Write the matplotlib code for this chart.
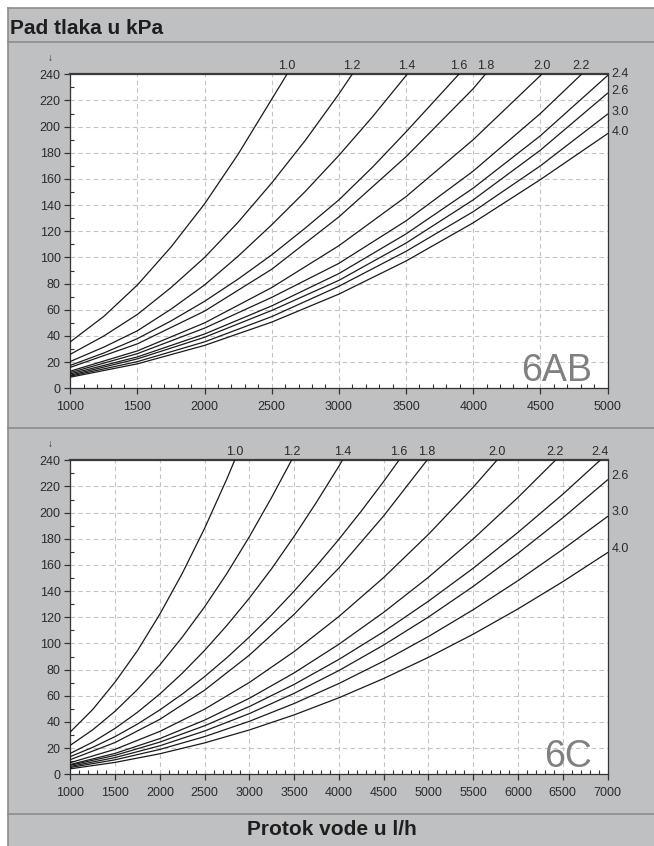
import numpy as np
import matplotlib
matplotlib.use('Agg')
from matplotlib import pyplot as plt
from matplotlib import font_manager
from matplotlib.ticker import MultipleLocator
from matplotlib.lines import Line2D
from matplotlib.patches import Rectangle

# oznake krivulja (postavke ventila)
krivulje = ['1.0', '1.2', '1.4', '1.6', '1.8', '2.0', '2.2', '2.4', '2.6', '3.0', '4.0']

# --- 6AB: protok u l/h, pad tlaka u kPa ---
# strme krivulje ocitane svakih 250 l/h, ostale svakih 500 l/h
protok_6ab_250 = [1000, 1250, 1500, 1750, 2000, 2250, 2500, 2750, 3000, 3250, 3500, 3750, 4000]
protok_6ab_500 = [1000, 1500, 2000, 2500, 3000, 3500, 4000, 4500, 5000]
pad_6ab_10 = [35.5, 55, 79, 108, 141, 179, 221, 263]
pad_6ab_12 = [26, 40, 56.5, 77, 100, 127, 157, 189.5, 225, 263]
pad_6ab_14 = [20.5, 31.5, 44, 60.5, 79, 101, 125, 150.5, 178, 207.5, 239, 272]
pad_6ab_16 = [17.5, 27, 38, 51.5, 66.5, 83.5, 102, 122.5, 144, 169, 196, 224, 252]
pad_6ab_18 = [16, 34, 59, 91, 131, 177, 229, 290]
pad_6ab_20 = [13.1, 28.6, 50, 77, 109, 146.5, 190, 239, 292]
pad_6ab_22 = [12, 26.5, 46, 69.5, 95.5, 128, 166, 210, 259]
pad_6ab_24 = [11, 24, 41.5, 63, 87.7, 118, 153, 193, 239]
pad_6ab_26 = [10, 22.5, 39, 59.5, 82.5, 111, 144, 182, 225.5]
pad_6ab_30 = [9.3, 20.4, 35.5, 54.8, 78, 104.7, 135, 170, 209.5]
pad_6ab_40 = [8.5, 18.7, 32.8, 50.6, 72, 97.3, 126.5, 159.5, 194.6]

# --- 6C ---
protok_6c_250 = [1000, 1250, 1500, 1750, 2000, 2250, 2500, 2750, 3000, 3250, 3500, 3750,
                 4000, 4250, 4500, 4750]
protok_6c_500 = [1000, 1500, 2000, 2500, 3000, 3500, 4000, 4500, 5000, 5500, 6000, 6500, 7000]
pad_6c_10 = [32.4, 49.5, 70.5, 94.5, 122.4, 153.5, 188, 226, 267]
pad_6c_12 = [22.2, 34, 48.2, 64.8, 83.6, 104.8, 128, 153.6, 181.6, 211.8, 243.8]
pad_6c_14 = [16, 24.6, 35.1, 47.4, 61.4, 77.2, 94.7, 113.9, 134.7, 157.3, 181.9, 208,
             235.5, 265]
pad_6c_16 = [13.5, 20.6, 28.8, 38.4, 49.2, 61.3, 74.7, 89.2, 105, 121.9, 140, 159.3,
             179.6, 201.2, 223.8, 247.6]
pad_6c_18 = [11.2, 24.3, 42, 64.3, 91.1, 122.3, 157.7, 197.5, 241.5]
pad_6c_20 = [8.9, 19.1, 32.8, 49.8, 70.2, 93.8, 120.6, 150.4, 183.4, 219.4, 258.4]
pad_6c_22 = [7.5, 16, 27.3, 41.4, 58.1, 77.5, 99.4, 123.8, 150.6, 179.9, 211.6, 245.6]
pad_6c_24 = [6.9, 14.5, 24.6, 37.1, 51.8, 68.7, 87.8, 109, 132.3, 157.5, 184.9, 214, 245.2]
pad_6c_26 = [6.0, 12.8, 21.8, 33.1, 46.4, 61.9, 79.3, 98.8, 120.2, 143.6, 168.9, 196, 225]
pad_6c_30 = [5.2, 11.1, 19, 28.8, 40.5, 54.1, 69.4, 86.5, 105.3, 125.8, 148, 171.9, 197]
pad_6c_40 = [4.2, 9.1, 15.7, 24, 33.9, 45.4, 58.5, 73.2, 89.4, 107.1, 126.4, 147.2, 169.4]

serije_6ab = [(protok_6ab_250, pad_6ab_10), (protok_6ab_250, pad_6ab_12),
              (protok_6ab_250, pad_6ab_14), (protok_6ab_250, pad_6ab_16),
              (protok_6ab_500, pad_6ab_18), (protok_6ab_500, pad_6ab_20),
              (protok_6ab_500, pad_6ab_22), (protok_6ab_500, pad_6ab_24),
              (protok_6ab_500, pad_6ab_26), (protok_6ab_500, pad_6ab_30),
              (protok_6ab_500, pad_6ab_40)]
serije_6c = [(protok_6c_250, pad_6c_10), (protok_6c_250, pad_6c_12),
             (protok_6c_250, pad_6c_14), (protok_6c_250, pad_6c_16),
             (protok_6c_500, pad_6c_18), (protok_6c_500, pad_6c_20),
             (protok_6c_500, pad_6c_22), (protok_6c_500, pad_6c_24),
             (protok_6c_500, pad_6c_26), (protok_6c_500, pad_6c_30),
             (protok_6c_500, pad_6c_40)]

plt.rcParams['font.family'] = ['Liberation Sans', 'DejaVu Sans']

imena_fontova = {f.name for f in font_manager.fontManager.ttflist}
if 'Liberation Sans Narrow' in imena_fontova:
    font_naslov = ['Liberation Sans Narrow', 'Liberation Sans']
    vel_naslov = 17
else:
    font_naslov = ['Liberation Sans', 'DejaVu Sans']
    vel_naslov = 15

W, H = 654, 846
SIVA = '#bfc0c2'
LINIJA = '#8c8c8c'
TEKST = '#2b2b2b'
VEL = 9


def fx(px):
    return px / W


def fy(py):
    return 1 - py / H


fig = plt.figure(figsize=(6.54, 8.46), dpi=100)
fig.patch.set_facecolor('white')

# siva podloga i razdjelne linije
fig.patches.append(Rectangle((fx(8), 0), 1 - fx(8), fy(8), transform=fig.transFigure,
                             facecolor=SIVA, edgecolor='none', zorder=-10))
for py in [8, 42.5, 428, 813.5]:
    fig.add_artist(Line2D([fx(8), 1], [fy(py), fy(py)], color=LINIJA, lw=1.2))
fig.add_artist(Line2D([fx(8), fx(8)], [0, fy(8)], color=LINIJA, lw=1.2))

fig.text(fx(10), fy(29), 'Pad tlaka u kPa', family=font_naslov, fontsize=vel_naslov,
         weight='bold', color='#1e1e1e', ha='left', va='center')
fig.text(fx(332), fy(829), 'Protok vode u l/h', family=font_naslov, fontsize=vel_naslov,
         weight='bold', color='#1e1e1e', ha='center', va='center')


def nacrtaj(ax, serije, x_max, natpis, pomak_desno):
    ax.set_facecolor('white')
    for ime, (x, pad) in zip(krivulje, serije):
        x = x[:len(pad)]
        ax.plot(x, pad, color='#1a1a1a', lw=0.9, zorder=3)
        if max(pad) >= 240:
            x_vrh = np.interp(240, pad, x)
            ax.annotate(ime, (x_vrh, 240), xytext=(0, 2), textcoords='offset points',
                        ha='center', va='bottom', fontsize=VEL, color=TEKST,
                        annotation_clip=False)
        else:
            ax.annotate(ime, (x[-1], pad[-1]), xytext=(3, pomak_desno),
                        textcoords='offset points', ha='left', va='center',
                        fontsize=VEL, color=TEKST, annotation_clip=False)

    ax.set_xlim(1000, x_max)
    ax.set_ylim(0, 240)
    ax.xaxis.set_major_locator(MultipleLocator(500))
    ax.xaxis.set_minor_locator(MultipleLocator(100))
    ax.yaxis.set_major_locator(MultipleLocator(20))
    ax.yaxis.set_minor_locator(MultipleLocator(10))
    ax.grid(which='major', color='#c4c4c4', linestyle=(0, (4, 3)), lw=0.8, zorder=1)
    ax.tick_params(which='major', direction='out', length=4, width=0.9,
                   color='#333333', labelsize=VEL, labelcolor=TEKST)
    ax.tick_params(which='minor', direction='in', length=3, width=0.8, color='#333333')
    ax.tick_params(axis='x', which='major', pad=5)
    ax.tick_params(axis='y', which='major', pad=3)
    for strana in ['left', 'bottom', 'right']:
        ax.spines[strana].set_color('#333333')
        ax.spines[strana].set_linewidth(0.9)
    ax.spines['top'].set_color('#3a3a3a')
    ax.spines['top'].set_linewidth(1.6)

    ax.text(0.972, 0.023, natpis, transform=ax.transAxes, ha='right', va='baseline',
            fontsize=27, color='#808080', zorder=4)
    ax.text(-0.037, 1.035, '\u2193', transform=ax.transAxes, ha='center', va='bottom',
            fontsize=7, color=TEKST)


ax1 = fig.add_axes([fx(70.3), fy(388.3), fx(607.5) - fx(70.3), fy(74.3) - fy(388.3)])
nacrtaj(ax1, serije_6ab, 5000, '6AB', 1.5)

ax2 = fig.add_axes([fx(70.3), fy(774.3), fx(607.5) - fx(70.3), fy(460.3) - fy(774.3)])
nacrtaj(ax2, serije_6c, 7000, '6C', 3)

plt.savefig('out.png', dpi=100, facecolor=fig.get_facecolor())
